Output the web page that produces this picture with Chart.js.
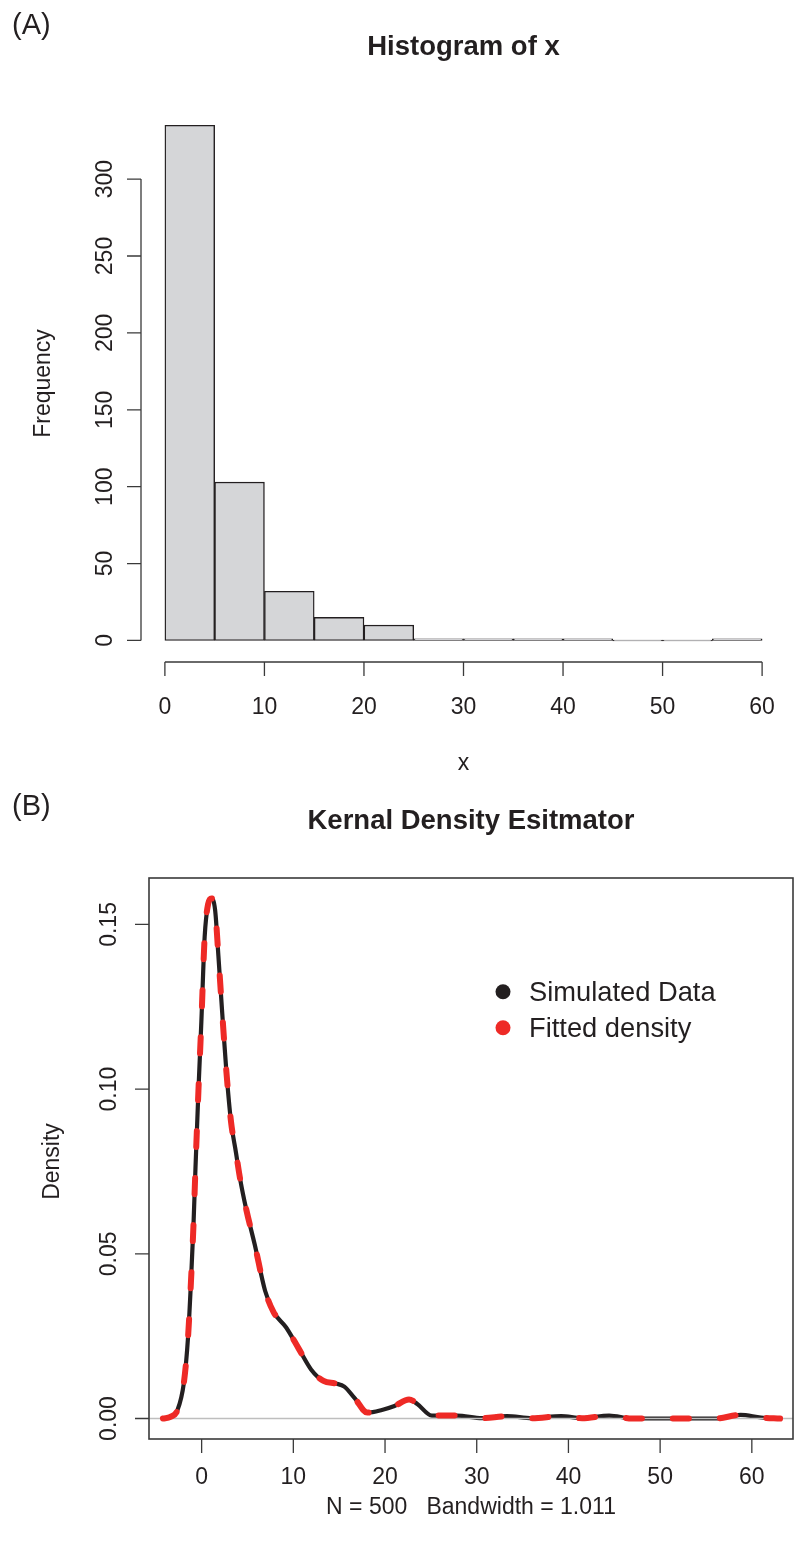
<!DOCTYPE html>
<html>
<head>
<meta charset="utf-8">
<script src="https://cdn.jsdelivr.net/npm/chart.js@4/dist/chart.umd.min.js"></script>
<style>
  html, body { margin: 0; padding: 0; background: #ffffff; }
  #wrap { position: relative; width: 794px; height: 1550px; background: #fff; }
  canvas { position: absolute; left: 0; }
  #cA { top: 0; }
  #cB { top: 780px; }
</style>
</head>
<body>
<div id="wrap">
  <canvas id="cA" width="794" height="780"></canvas>
  <canvas id="cB" width="794" height="770"></canvas>
</div>
<script>
// ---------------- DATA ----------------
// Panel A: histogram of x (bin left edges, width 5)
const histBinStarts = [0, 5, 10, 15, 20, 25, 30, 35, 40, 45, 50, 55];
const histCounts    = [335, 103, 32, 15, 10, 1, 1, 1, 1, 0, 0, 1];
const histXTicks    = [0, 10, 20, 30, 40, 50, 60];
const histYTicks    = [0, 50, 100, 150, 200, 250, 300];

// Panel B: kernel density estimate (x, density)
const kdeX = [-4.22, -3.4, -2.63, -1.94, -1.48, -1.17, -0.89, -0.67, -0.35, -0.03,
              0.33, 0.70, 1.06, 1.47, 1.83, 2.25, 2.70, 3.20, 3.74, 4.20,
              4.88, 5.79, 6.92, 7.83, 9.20, 10.57, 11.93, 13.29, 14.66, 15.56,
              16.71, 18.07, 19.66, 21.03, 22.62, 23.52, 25.11, 27.84, 30.58, 33.30,
              36.03, 39.21, 41.48, 44.44, 46.95, 50.0, 53.0, 56.0, 58.77, 61.0, 63.08];
const simulatedDensity = [0, 0.0005, 0.0026, 0.0108, 0.0248, 0.0412, 0.0587, 0.0762, 0.0995, 0.1205,
              0.1462, 0.1561, 0.1579, 0.1544, 0.1404, 0.1229, 0.1053, 0.0902, 0.0808, 0.0727,
              0.0633, 0.0528, 0.0388, 0.0324, 0.0277, 0.0213, 0.0149, 0.0114, 0.0106, 0.0097,
              0.0061, 0.0018, 0.0026, 0.0038, 0.0058, 0.0044, 0.0009, 0.0009, 0.0001, 0.0007,
              0.0001, 0.0007, 0.0001, 0.0009, 0.0, 0.0, 0.0, 0.0, 0.0011, 0.0003, 0.0];
const fittedDensity = [0, 0.0005, 0.0026, 0.0108, 0.0248, 0.0412, 0.0587, 0.0762, 0.0995, 0.1205,
              0.1462, 0.1561, 0.1579, 0.1544, 0.1404, 0.1229, 0.1053, 0.0902, 0.0808, 0.0727,
              0.0633, 0.0528, 0.0388, 0.0324, 0.0277, 0.0213, 0.0149, 0.0114, 0.0106, 0.0097,
              0.0061, 0.0018, 0.0026, 0.0038, 0.0058, 0.0044, 0.0009, 0.0009, 0.0001, 0.0007,
              0.0001, 0.0007, 0.0001, 0.0009, 0.0, 0.0, 0.0, 0.0, 0.0011, 0.0003, 0.0];
const densXTicks      = [0, 10, 20, 30, 40, 50, 60];
const densYTicks      = [0, 0.05, 0.10, 0.15];
const densYTickLabels = ["0.00", "0.05", "0.10", "0.15"];
const legendLabels    = ["Simulated Data", "Fitted density"];

// ---------------- STYLE ----------------
const FONT = '"Liberation Sans", Arial, Helvetica, sans-serif';
const INK = '#231F20';
const AXIS = '#3a3a3a';
const RED = '#EE2A26';

function txt(ctx, s, x, y, size, opt) {
  opt = opt || {};
  ctx.save();
  ctx.font = (opt.bold ? 'bold ' : '') + size + 'px ' + FONT;
  ctx.textAlign = opt.align || 'center';
  ctx.textBaseline = 'alphabetic';
  ctx.fillStyle = INK;
  if (opt.rot) {
    ctx.translate(x, y);
    ctx.rotate(-Math.PI / 2);
    ctx.fillText(s, 0, 0);
  } else {
    ctx.fillText(s, x, y);
  }
  ctx.restore();
}

// R-style axes for the histogram
const histAxes = {
  id: 'histAxes',
  afterDraw(chart) {
    const ctx = chart.ctx, xs = chart.scales.x, ys = chart.scales.y, ca = chart.chartArea;
    ctx.save();
    ctx.strokeStyle = AXIS; ctx.lineWidth = 1.3; ctx.lineCap = 'butt';
    const yb = ca.bottom;
    ctx.beginPath();
    ctx.moveTo(xs.getPixelForValue(histXTicks[0]), yb);
    ctx.lineTo(xs.getPixelForValue(histXTicks[histXTicks.length - 1]), yb);
    histXTicks.forEach(v => { const p = xs.getPixelForValue(v); ctx.moveTo(p, yb); ctx.lineTo(p, yb + 14); });
    const xl = ca.left;
    ctx.moveTo(xl, ys.getPixelForValue(histYTicks[0]));
    ctx.lineTo(xl, ys.getPixelForValue(histYTicks[histYTicks.length - 1]));
    histYTicks.forEach(v => { const p = ys.getPixelForValue(v); ctx.moveTo(xl, p); ctx.lineTo(xl - 14, p); });
    ctx.stroke();
    ctx.restore();
    histXTicks.forEach(v => txt(ctx, String(v), xs.getPixelForValue(v), yb + 52, 23));
    histYTicks.forEach(v => txt(ctx, String(v), xl - 29, ys.getPixelForValue(v), 23, {rot: true}));
    const cx = (ca.left + ca.right) / 2;
    txt(ctx, '(A)', 12, 34, 29, {align: 'left'});
    txt(ctx, 'Histogram of x', cx, 55, 27.5, {bold: true});
    txt(ctx, 'Frequency', 50, (ca.top + ca.bottom) / 2, 23, {rot: true});
    txt(ctx, 'x', cx, 770, 23);
  }
};

// R-style axes, box, zero line and legend for the density plot
const densAxes = {
  id: 'densAxes',
  afterDatasetDraw(chart, args) {
    if (chart.data.datasets[args.index].label === legendLabels[0]) {
      const ctx = chart.ctx, ys = chart.scales.y, ca = chart.chartArea;
      const p = ys.getPixelForValue(0);
      ctx.save();
      ctx.strokeStyle = '#BEBEBE'; ctx.lineWidth = 1.3;
      ctx.beginPath(); ctx.moveTo(ca.left, p); ctx.lineTo(ca.right, p); ctx.stroke();
      ctx.restore();
    }
  },
  afterDraw(chart) {
    const ctx = chart.ctx, xs = chart.scales.x, ys = chart.scales.y, ca = chart.chartArea;
    ctx.save();
    ctx.strokeStyle = AXIS; ctx.lineWidth = 1.6;
    ctx.strokeRect(ca.left, ca.top, ca.right - ca.left, ca.bottom - ca.top);
    ctx.lineWidth = 1.3;
    ctx.beginPath();
    densXTicks.forEach(v => { const p = xs.getPixelForValue(v); ctx.moveTo(p, ca.bottom); ctx.lineTo(p, ca.bottom + 14); });
    densYTicks.forEach(v => { const p = ys.getPixelForValue(v); ctx.moveTo(ca.left, p); ctx.lineTo(ca.left - 14, p); });
    ctx.stroke();
    ctx.restore();
    densXTicks.forEach(v => txt(ctx, String(v), xs.getPixelForValue(v), ca.bottom + 45, 23));
    densYTicks.forEach((v, i) => txt(ctx, densYTickLabels[i], 116, ys.getPixelForValue(v), 23, {rot: true}));
    const cx = (ca.left + ca.right) / 2;
    txt(ctx, '(B)', 12, 35, 29, {align: 'left'});
    txt(ctx, 'Kernal Density Esitmator', cx, 49, 27.5, {bold: true});
    txt(ctx, 'Density', 59, (ca.top + ca.bottom) / 2 + 3, 23, {rot: true});
    txt(ctx, 'N = 500   Bandwidth = 1.011', cx, 734, 23);
    const cols = [INK, RED];
    const dotY = [211.7, 247.7];
    const textY = [221, 257];
    legendLabels.forEach((lab, i) => {
      ctx.save();
      ctx.fillStyle = cols[i];
      ctx.beginPath(); ctx.arc(503, dotY[i], 7.5, 0, Math.PI * 2); ctx.fill();
      ctx.restore();
      txt(ctx, lab, 529, textY[i], 27.3, {align: 'left'});
    });
  }
};

// ---------------- CHART A: histogram ----------------
new Chart(document.getElementById('cA'), {
  type: 'bar',
  data: {
    datasets: [{
      label: 'Frequency',
      data: histBinStarts.map((s, i) => ({x: s + 2.5, y: histCounts[i]})),
      backgroundColor: '#D5D6D8',
      borderColor: INK,
      borderWidth: 1.4,
      borderSkipped: false,
      barPercentage: 1.0,
      categoryPercentage: 1.0,
      minBarLength: 1
    }]
  },
  options: {
    responsive: false,
    animation: false,
    events: [],
    layout: { padding: { left: 141, right: 8, top: 105, bottom: 118 } },
    plugins: { legend: { display: false }, tooltip: { enabled: false }, title: { display: false } },
    scales: {
      x: { type: 'linear', min: -2.4, max: 62.4, offset: false, display: false },
      y: { type: 'linear', min: -14.0, max: 348.2, display: false }
    }
  },
  plugins: [histAxes]
});

// ---------------- CHART B: density ----------------
new Chart(document.getElementById('cB'), {
  type: 'line',
  data: {
    datasets: [
      {
        label: legendLabels[1],
        data: kdeX.map((x, i) => ({x: x, y: fittedDensity[i]})),
        borderColor: RED,
        borderWidth: 6,
        borderDash: [16, 31],
        borderCapStyle: 'round',
        cubicInterpolationMode: 'monotone',
        pointRadius: 0,
        fill: false,
        order: 1
      },
      {
        label: legendLabels[0],
        data: kdeX.map((x, i) => ({x: x, y: simulatedDensity[i]})),
        borderColor: INK,
        borderWidth: 4.2,
        borderCapStyle: 'round',
        borderJoinStyle: 'round',
        cubicInterpolationMode: 'monotone',
        pointRadius: 0,
        fill: false,
        order: 2
      }
    ]
  },
  options: {
    responsive: false,
    animation: false,
    events: [],
    layout: { padding: { left: 149, right: 1, top: 98, bottom: 111 } },
    plugins: { legend: { display: false }, tooltip: { enabled: false }, title: { display: false } },
    scales: {
      x: { type: 'linear', min: -5.74, max: 64.49, display: false },
      y: { type: 'linear', min: -0.00622, max: 0.1641, display: false }
    }
  },
  plugins: [densAxes]
});
</script>
</body>
</html>
